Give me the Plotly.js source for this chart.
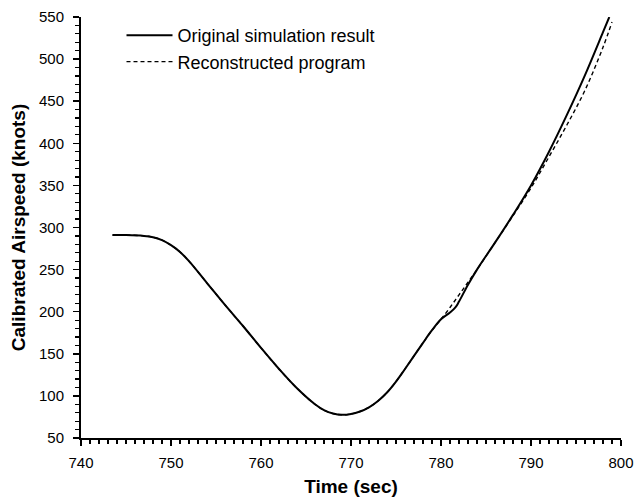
<!DOCTYPE html>
<html>
<head>
<meta charset="utf-8">
<script src="https://cdn.plot.ly/plotly-3.0.1.min.js"></script>
<style>html,body{margin:0;padding:0;background:#fff;}#chart{width:636px;height:501px;}</style>
</head>
<body>
<div id="chart"></div>
<script>
// Original simulation result
const timeOriginal = [743.5, 745, 747, 748, 749, 750, 751, 752, 754, 756, 758, 760, 762, 764, 766, 767, 768, 769, 770, 771, 772, 773, 774, 775, 776, 778, 779, 780, 781, 781.6, 782, 783, 784, 786, 788, 790, 792, 794, 796, 798, 798.7];
const speedOriginal = [291, 291, 290, 288.5, 285, 279, 271, 260, 234, 208, 183, 157, 132, 109, 90, 83, 79, 77.5, 78.5, 81.5, 86.5, 94, 104, 117, 132, 163, 178, 191, 199, 205, 212, 232, 250, 282, 315, 350, 390, 434, 481, 532, 550];
// Reconstructed program
const timeRecon = [743.5, 745, 747, 748, 749, 750, 751, 752, 754, 756, 758, 760, 762, 764, 766, 767, 768, 769, 770, 771, 772, 773, 774, 775, 776, 778, 779, 780, 781, 782, 783, 784, 786, 788, 790, 792, 794, 796, 798, 799];
const speedRecon = [291, 291, 290, 288.5, 285, 279, 271, 260, 234, 208, 183, 157, 132, 109, 90, 83, 79, 77.5, 78.5, 81.5, 86.5, 94, 104, 117, 132, 163, 178, 191, 205, 220, 235, 250, 282, 314, 347, 384, 422, 463, 514, 544];
const seriesNames = ["Original simulation result", "Reconstructed program"];
const xTicks = [740, 750, 760, 770, 780, 790, 800];
const yTicks = [50, 100, 150, 200, 250, 300, 350, 400, 450, 500, 550];

const FONT = "Liberation Sans, Arial, sans-serif";
const traces = [
  {x: timeRecon, y: speedRecon, name: seriesNames[1], mode: "lines",
   line: {color: "#000", width: 1.4, dash: "4px,3px", shape: "spline", smoothing: 1}},
  {x: timeOriginal, y: speedOriginal, name: seriesNames[0], mode: "lines",
   line: {color: "#000", width: 2, shape: "spline", smoothing: 1}}
];
const layout = {
  width: 636, height: 501,
  margin: {l: 81, r: 15, t: 17, b: 63},
  paper_bgcolor: "#fff", plot_bgcolor: "#fff",
  font: {family: FONT, color: "#000", size: 15},
  showlegend: true,
  legend: {x: 0.075, y: 1.0, xanchor: "left", yanchor: "top", traceorder: "reversed",
           bgcolor: "rgba(0,0,0,0)", font: {size: 18, family: FONT}, itemwidth: 46,
           tracegroupgap: 0},
  xaxis: {range: [740, 800], tickvals: xTicks, ticktext: xTicks.map(String),
          showgrid: false, zeroline: false, showline: true, linecolor: "#000", linewidth: 2,
          ticks: "outside", ticklen: 6, tickwidth: 1.5, tickcolor: "#000",
          ticklabelstandoff: 4,
          minor: {dtick: 1, tick0: 740, ticks: "outside", ticklen: 4, tickwidth: 1.2, tickcolor: "#000", showgrid: false},
          tickfont: {size: 15},
          title: {text: "Time (sec)", font: {size: 19, weight: "bold"}, standoff: 10}},
  yaxis: {range: [50, 550], tickvals: yTicks, ticktext: yTicks.map(String),
          showgrid: false, zeroline: false, showline: true, linecolor: "#000", linewidth: 2,
          ticks: "outside", ticklen: 6, tickwidth: 1.5, tickcolor: "#000",
          ticklabelstandoff: 6,
          minor: {dtick: 10, tick0: 50, ticks: "outside", ticklen: 4, tickwidth: 1.2, tickcolor: "#000", showgrid: false},
          tickfont: {size: 15},
          title: {text: "Calibrated Airspeed (knots)", font: {size: 19, weight: "bold"}, standoff: 8}}
};
Plotly.newPlot("chart", traces, layout, {staticPlot: true, displayModeBar: false});
</script>
</body>
</html>
